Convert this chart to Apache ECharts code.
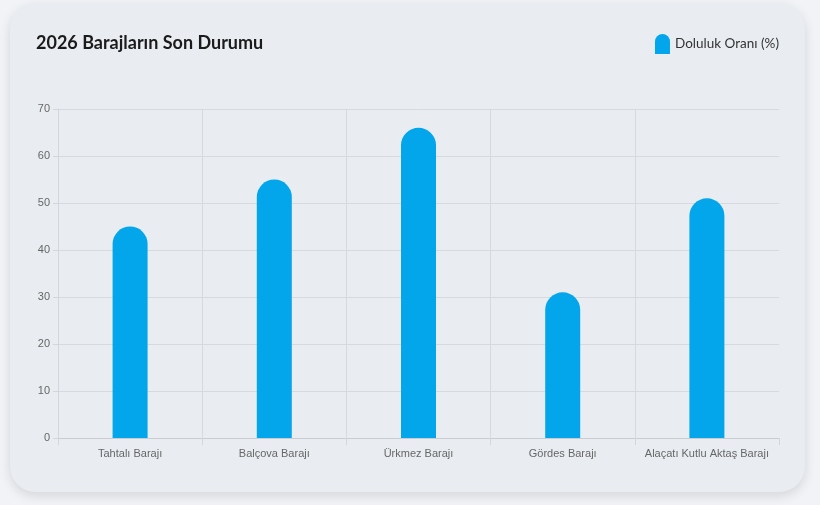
<!DOCTYPE html>
<html>
<head>
<meta charset="utf-8">
<script src="https://cdn.jsdelivr.net/npm/echarts@6/dist/echarts.min.js"></script>
<style>
  html, body { margin: 0; padding: 0; background: #f1f3f6; width: 820px; height: 505px; overflow: hidden; }
  #card { position: absolute; left: 10px; top: 3px; width: 795px; height: 489px; border-radius: 26px; background: #e9edf2; box-shadow: 0 4px 12px rgba(0,0,0,0.12); }
  #chart { position: absolute; left: 0; top: 0; width: 820px; height: 505px; }
</style>
</head>
<body>
<div id="card"></div>
<div id="chart"></div>
<script>
const titleText = '2026 Barajların Son Durumu';
const seriesName = 'Doluluk Oranı (%)';
const categories = ['Tahtalı Barajı', 'Balçova Barajı', 'Ürkmez Barajı', 'Gördes Barajı', 'Alaçatı Kutlu Aktaş Barajı'];
const values = [45, 55, 66, 31, 51];

const chart = echarts.init(document.getElementById('chart'), null, { renderer: 'canvas' });
chart.setOption({
  backgroundColor: 'transparent',
  animation: false,
  title: {
    text: titleText,
    left: 31, top: 29,
    textStyle: { fontFamily: 'Lato, "Noto Sans", sans-serif', fontWeight: 'bold', fontSize: 18, color: '#1b1b1b' }
  },
  legend: {
    right: 36, top: 29,
    itemWidth: 15, itemHeight: 20, itemGap: 7,
    icon: 'path://M0,7.5 A7.5,7.5 0 0 1 15,7.5 L15,20 L0,20 Z',
    textStyle: { fontFamily: 'Lato, "Noto Sans", sans-serif', fontSize: 13.5, color: '#333' },
    data: [seriesName]
  },
  grid: { left: 58, right: 41, top: 109, bottom: 67, containLabel: false },
  xAxis: {
    type: 'category',
    data: categories,
    axisLine: { show: true, lineStyle: { color: '#c9ccd1' } },
    axisTick: { show: true, interval: 0, length: 7, lineStyle: { color: '#d3d6db' } },
    splitLine: { show: true, interval: 0, lineStyle: { color: ['#d6d9de', '#d6d9de', '#d6d9de', '#d6d9de', '#d6d9de', 'rgba(0,0,0,0)'] } },
    axisLabel: { interval: 0, fontFamily: '"Liberation Sans", Arial, sans-serif', fontSize: 11, color: '#666', margin: 10 }
  },
  yAxis: {
    type: 'value',
    min: 0, max: 70, interval: 10,
    axisLine: { show: true, lineStyle: { color: '#d3d6db' } },
    axisTick: { show: true, length: 5, lineStyle: { color: '#d3d6db' } },
    splitLine: { show: true, lineStyle: { color: '#d6d9de' } },
    axisLabel: { fontFamily: '"Liberation Sans", Arial, sans-serif', fontSize: 11, color: '#666', margin: 8 }
  },
  series: [{
    name: seriesName,
    type: 'bar',
    data: values,
    barWidth: 35,
    itemStyle: { color: '#03a6ea', borderRadius: [17.5, 17.5, 0, 0] }
  }]
});
</script>
</body>
</html>
